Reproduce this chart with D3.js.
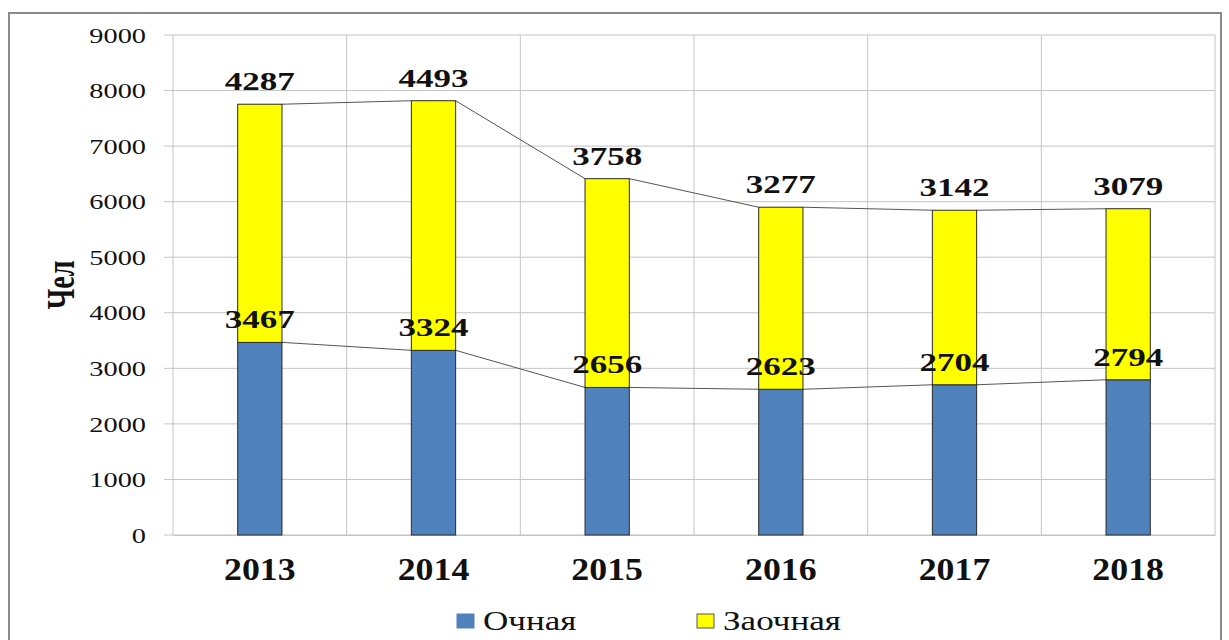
<!DOCTYPE html>
<html>
<head>
<meta charset="utf-8">
<script src="https://cdn.jsdelivr.net/npm/d3@7"></script>
<style>
  body { margin: 0; background: #fff; }
  svg text { font-family: 'Liberation Serif'; fill: #111; }
</style>
</head>
<body>
<svg width="1229" height="640"></svg>
<script>

const years      = ['2013', '2014', '2015', '2016', '2017', '2018'];
const fullTime   = [3467, 3324, 2656, 2623, 2704, 2794];   // Очная
const partTime   = [4287, 4493, 3758, 3277, 3142, 3079];   // Заочная
const seriesNames = ['Очная', 'Заочная'];
const yTicks     = [0, 1000, 2000, 3000, 4000, 5000, 6000, 7000, 8000, 9000];

const colors = ['#4f81bd', '#ffff00'];

const svg = d3.select('svg');

const margin = { top: 35, right: 14, bottom: 105, left: 173 };
const width  = +svg.attr('width');
const height = +svg.attr('height');
const innerWidth  = width - margin.left - margin.right;
const innerHeight = height - margin.top - margin.bottom;

// outer frame
svg.append('rect')
    .attr('x', 9).attr('y', 13)
    .attr('width', 1212).attr('height', 640)
    .attr('fill', 'none')
    .attr('stroke', '#8a8a8a')
    .attr('stroke-width', 2);

const g = svg.append('g')
    .attr('transform', `translate(${margin.left},${margin.top})`);

const x = d3.scaleBand()
    .domain(years)
    .range([0, innerWidth]);

const y = d3.scaleLinear()
    .domain([0, 9000])
    .range([innerHeight, 0]);

const barW = x.bandwidth() * 0.255;

// horizontal grid
g.append('g')
  .selectAll('line').data(yTicks)
  .enter().append('line')
    .attr('x1', -9).attr('x2', innerWidth)
    .attr('y1', d => y(d)).attr('y2', d => y(d))
    .attr('stroke', '#c4c4c4').attr('stroke-width', 1);

// vertical grid (category boundaries)
g.append('g')
  .selectAll('line').data(d3.range(years.length + 1))
  .enter().append('line')
    .attr('x1', i => i * x.step()).attr('x2', i => i * x.step())
    .attr('y1', 0).attr('y2', innerHeight)
    .attr('stroke', '#c4c4c4').attr('stroke-width', 1);

// y tick labels, stretched sideways like the source picture
const yAxis = d3.axisLeft(y)
    .tickValues(yTicks)
    .tickFormat(d3.format('d'))
    .tickSize(0)
    .tickPadding(0);
const yAxisG = g.append('g').call(yAxis);
yAxisG.select('.domain').remove();
yAxisG.selectAll('.tick text')
    .attr('x', null)
    .attr('dy', '0.34em')
    .attr('transform', 'translate(-27,0) scale(1.35,1)')
    .style('font-size', '21px');

// x axis labels
const xAxis = d3.axisBottom(x).tickSize(0).tickPadding(22);
const xAxisG = g.append('g')
    .attr('transform', `translate(0,${innerHeight})`)
    .call(xAxis);
xAxisG.select('.domain').attr('stroke', '#c4c4c4');
xAxisG.selectAll('.tick text')
    .style('font-size', '32px')
    .style('font-weight', 'bold')
    .attr('transform', 'scale(1.12,1)');

// y label
svg.append('text')
    .attr('transform', 'translate(60,285) scale(1.4,1) rotate(-90)')
    .attr('text-anchor', 'middle')
    .attr('dy', '0.35em')
    .style('font-size', '28px')
    .style('font-weight', 'bold')
    .text('Чел');

// stacked data
const table = years.map((yr, i) => ({ year: yr, [seriesNames[0]]: fullTime[i], [seriesNames[1]]: partTime[i] }));
const stacked = d3.stack().keys(seriesNames)(table);

// series lines between bars
stacked.forEach(layer => {
  for (let i = 0; i < layer.length - 1; i++) {
    const a = layer[i], b = layer[i + 1];
    g.append('line')
        .attr('x1', x(a.data.year) + x.bandwidth() / 2 + barW / 2)
        .attr('y1', y(a[1]))
        .attr('x2', x(b.data.year) + x.bandwidth() / 2 - barW / 2)
        .attr('y2', y(b[1]))
        .attr('stroke', '#555')
        .attr('stroke-width', 1);
  }
});

// bars
stacked.forEach((layer, k) => {
  g.append('g')
    .selectAll('rect').data(layer)
    .enter().append('rect')
      .attr('x', d => x(d.data.year) + x.bandwidth() / 2 - barW / 2)
      .attr('y', d => y(d[1]))
      .attr('width', barW)
      .attr('height', d => y(d[0]) - y(d[1]))
      .attr('fill', colors[k])
      .attr('stroke', '#2a2a2a')
      .attr('stroke-width', 1);
});

// value labels
stacked.forEach(layer => {
  g.append('g')
    .selectAll('text').data(layer)
    .enter().append('text')
      .attr('transform', d => `translate(${x(d.data.year) + x.bandwidth() / 2},${y(d[1]) - 14}) scale(1.4,1)`)
      .attr('text-anchor', 'middle')
      .style('font-size', '25px')
      .style('font-weight', 'bold')
      .text(d => d[1] - d[0]);
});

// legend
const legendX = [457, 697];
const legend = svg.append('g');
seriesNames.forEach((name, k) => {
  legend.append('rect')
      .attr('x', legendX[k]).attr('y', 614)
      .attr('width', 17).attr('height', 14)
      .attr('fill', colors[k])
      .attr('stroke', k === 0 ? '#4f81bd' : '#555')
      .attr('stroke-width', 1);
  legend.append('text')
      .attr('transform', `translate(${legendX[k] + 26},630) scale(1.3,1)`)
      .style('font-size', '27px')
      .text(name);
});

</script>
</body>
</html>
